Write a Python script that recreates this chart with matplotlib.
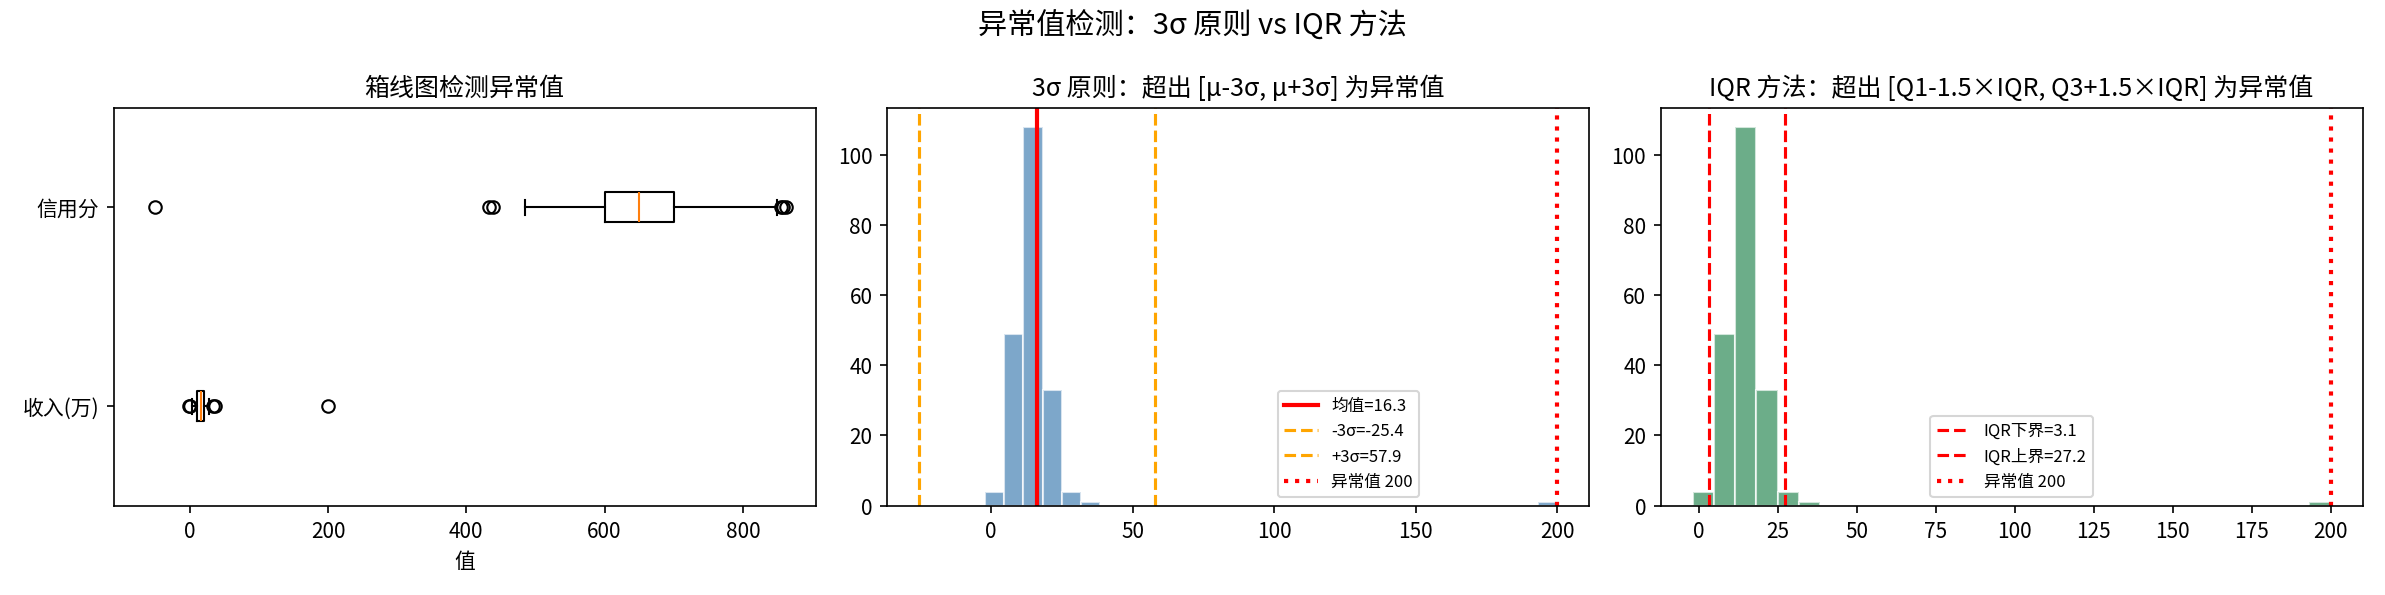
import numpy as np
import matplotlib
matplotlib.use("Agg")
import matplotlib.pyplot as plt

plt.rcParams['font.family'] = ['Noto Sans CJK SC', 'DejaVu Sans']
plt.rcParams['axes.unicode_minus'] = False

# boxplot summary stats
box_labels = ["收入(万)", "信用分"]
box_q1 = [10.5, 600]
box_med = [16.0, 650]
box_q3 = [20.5, 700]
box_lo = [3.5, 485]
box_hi = [28.0, 850]
box_fliers = [[-1.0, 0.5, 33.0, 36.0, 200.0], [-50.0, 433.0, 438.0, 855.0, 858.0, 862.0]]

# histogram (30 bins over income)
bin_left = [-2.0, 4.73, 11.47, 18.2, 24.93, 31.67, 193.27]
bin_count = [4, 49, 108, 33, 4, 1, 1]
bin_width = 6.73

mean_val = 16.3
lo_3s, hi_3s = -25.4, 57.9
iqr_lo, iqr_hi = 3.1, 27.2
outlier = 200

fig, axes = plt.subplots(1, 3, figsize=(15.9, 3.97), dpi=150)
fig.suptitle("异常值检测：3σ 原则 vs IQR 方法", fontsize=14)

ax = axes[0]
stats = [dict(label=box_labels[i], q1=box_q1[i], med=box_med[i], q3=box_q3[i],
              whislo=box_lo[i], whishi=box_hi[i], fliers=box_fliers[i]) for i in range(2)]
ax.bxp(stats, orientation="horizontal")
ax.set_title("箱线图检测异常值")
ax.set_xlabel("值")
ax.set_xlim(-110, 905)

ax = axes[1]
ax.bar(bin_left, bin_count, width=bin_width, align="edge", color="steelblue",
       alpha=0.7, edgecolor="white")
ax.axvline(mean_val, color="red", lw=2, label=f"均值={mean_val}")
ax.axvline(lo_3s, color="orange", ls="--", label=f"-3σ={lo_3s}")
ax.axvline(hi_3s, color="orange", ls="--", label=f"+3σ={hi_3s}")
ax.axvline(outlier, color="red", ls=":", lw=2, label=f"异常值 {outlier}")
ax.set_title("3σ 原则：超出 [μ-3σ, μ+3σ] 为异常值")
ax.legend(fontsize=8, loc="lower right", bbox_to_anchor=(0.77, 0.0))

ax = axes[2]
ax.bar(bin_left, bin_count, width=bin_width, align="edge", color="seagreen",
       alpha=0.7, edgecolor="white")
ax.axvline(iqr_lo, color="red", ls="--", label=f"IQR下界={iqr_lo}")
ax.axvline(iqr_hi, color="red", ls="--", label=f"IQR上界={iqr_hi}")
ax.axvline(outlier, color="red", ls=":", lw=2, label=f"异常值 {outlier}")
ax.set_title("IQR 方法：超出 [Q1-1.5×IQR, Q3+1.5×IQR] 为异常值")
ax.legend(fontsize=8, loc="lower center")

plt.tight_layout()
plt.savefig("out.png", dpi=150)
